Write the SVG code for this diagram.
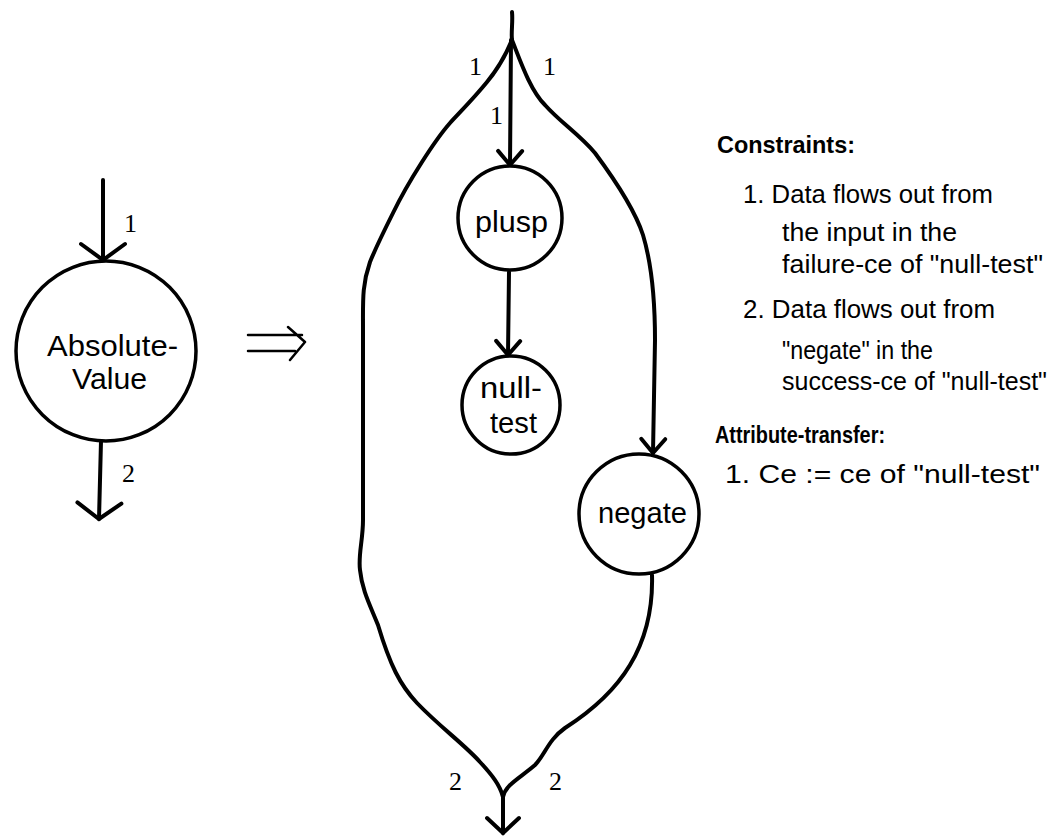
<svg xmlns="http://www.w3.org/2000/svg" width="1060" height="836" viewBox="0 0 1060 836">
  <defs>
    <style>
      .edge { fill: none; stroke: #000; stroke-width: 4; stroke-linecap: round; stroke-linejoin: round; }
      .node { fill: #fff; stroke: #000; stroke-width: 3.5; }
      .label { font-family: "Liberation Sans", Arial, sans-serif; font-size: 30px; fill: #000; }
      .num { font-family: "Liberation Serif", "Times New Roman", serif; font-size: 26px; fill: #000; }
      .note { font-family: "Liberation Sans", Arial, sans-serif; font-size: 25px; fill: #000; }
      .head { font-family: "Liberation Sans", Arial, sans-serif; font-size: 24px; font-weight: bold; fill: #000; }
    </style>
    <!-- open V arrowheads, oriented along the path end -->
    <marker id="arrowL" markerUnits="userSpaceOnUse" orient="auto" refX="0" refY="0" markerWidth="60" markerHeight="60" overflow="visible">
      <path d="M-16,-22 L0,0 L-16,22" fill="none" stroke="#000" stroke-width="4" stroke-linecap="round"/>
    </marker>
    <marker id="arrowM" markerUnits="userSpaceOnUse" orient="auto" refX="0" refY="0" markerWidth="60" markerHeight="60" overflow="visible">
      <path d="M-15,-16 L0,0 L-15,16" fill="none" stroke="#000" stroke-width="4" stroke-linecap="round"/>
    </marker>
    <marker id="arrowS" markerUnits="userSpaceOnUse" orient="auto" refX="0" refY="0" markerWidth="60" markerHeight="60" overflow="visible">
      <path d="M-14,-12 L0,0 L-14,12" fill="none" stroke="#000" stroke-width="4" stroke-linecap="round"/>
    </marker>
  </defs>

  <rect x="0" y="0" width="1060" height="836" fill="#fff"/>

  <!-- connectors -->
  <g id="connectors">
    <!-- left: single operator -->
    <path class="edge" d="M103,180 L103,260" marker-end="url(#arrowL)"/>
    <path class="edge" d="M101,441 L99,519" marker-end="url(#arrowL)"/>

    <!-- right: expansion -->
    <path class="edge" d="M512,12 C513,22 511,32 512,40"/>
    <path class="edge" d="M511,40 L510,165" marker-end="url(#arrowS)"/>
    <path class="edge" d="M512,40 C507,52 497,70 487,82 C474,98 462,110 450,123 C435,140 408,182 393,213 C383,233 376,247 370,262 C362,285 363,300 363,330 L363,520 C363,540 358,555 360,570 C362,590 370,605 378,625 C390,665 400,685 417,703 C440,727 465,745 480,762 C492,775 500,785 503,797"/>
    <path class="edge" d="M512,40 C520,60 530,90 545,105 C560,122 580,135 595,153 C615,180 635,210 643,235 C652,265 655,300 655,340 L653,453" marker-end="url(#arrowS)"/>
    <path class="edge" d="M509,272 L508,355" marker-end="url(#arrowS)"/>
    <path class="edge" d="M652,575 C653,610 645,640 630,665 C615,690 590,712 565,728 C548,740 545,755 535,765 C520,778 505,785 503,797"/>
    <path class="edge" d="M503,797 L503,833" marker-end="url(#arrowM)"/>

    <!-- transformation symbol -->
    <path d="M248,335 L302,335 M248,351 L295,351 M288,327 L305,342 L290,360" fill="none" stroke="#000" stroke-width="2.5" stroke-linecap="round" stroke-linejoin="round"/>
  </g>

  <!-- edge labels -->
  <g id="edge-labels">
    <text class="num" x="124" y="232">1</text>
    <text class="num" x="122" y="482">2</text>
    <text class="num" x="469" y="75">1</text>
    <text class="num" x="543" y="75">1</text>
    <text class="num" x="490" y="124">1</text>
    <text class="num" x="449" y="790">2</text>
    <text class="num" x="549" y="790">2</text>
  </g>

  <g id="absolute-value">
    <circle class="node" cx="106" cy="351" r="90"/>
    <text class="label" x="47" y="356" font-size="28" textLength="131" lengthAdjust="spacingAndGlyphs">Absolute-</text>
    <text class="label" x="72" y="389" font-size="28" textLength="75" lengthAdjust="spacingAndGlyphs">Value</text>
  </g>

  <g id="plusp">
    <circle class="node" cx="510" cy="218" r="52"/>
    <text class="label" x="475" y="232" textLength="73" lengthAdjust="spacingAndGlyphs">plusp</text>
  </g>

  <g id="null-test">
    <circle class="node" cx="511" cy="405" r="49"/>
    <text class="label" x="480" y="398" textLength="62" lengthAdjust="spacingAndGlyphs">null-</text>
    <text class="label" x="490" y="433" textLength="47" lengthAdjust="spacingAndGlyphs">test</text>
  </g>

  <g id="negate">
    <circle class="node" cx="639" cy="514" r="60"/>
    <text class="label" x="598" y="523" textLength="89" lengthAdjust="spacingAndGlyphs">negate</text>
  </g>

  <g id="notes">
    <text class="head" x="717" y="153" textLength="138" lengthAdjust="spacingAndGlyphs">Constraints:</text>
    <text class="note" x="743" y="203" textLength="250" lengthAdjust="spacingAndGlyphs">1. Data flows out from</text>
    <text class="note" x="782" y="241" textLength="175" lengthAdjust="spacingAndGlyphs">the input in the</text>
    <text class="note" x="782" y="273" textLength="261" lengthAdjust="spacingAndGlyphs">failure-ce of "null-test"</text>
    <text class="note" x="743" y="318" textLength="252" lengthAdjust="spacingAndGlyphs">2. Data flows out from</text>
    <text class="note" x="782" y="359" textLength="151" lengthAdjust="spacingAndGlyphs">"negate" in the</text>
    <text class="note" x="782" y="390" textLength="265" lengthAdjust="spacingAndGlyphs">success-ce of "null-test"</text>
    <text class="head" x="715" y="443" textLength="170" lengthAdjust="spacingAndGlyphs">Attribute-transfer:</text>
    <text class="note" x="725" y="483" textLength="315" lengthAdjust="spacingAndGlyphs">1. Ce := ce of "null-test"</text>
  </g>
</svg>
